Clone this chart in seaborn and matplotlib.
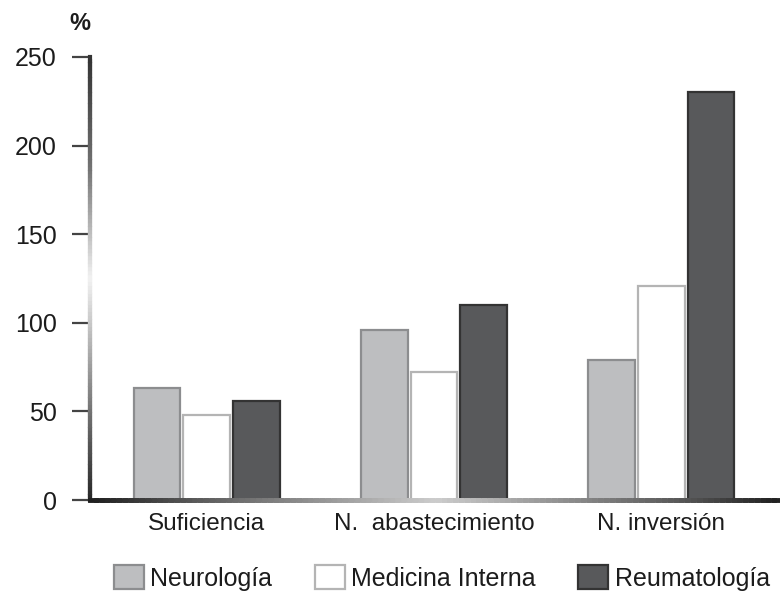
import numpy as np
import pandas as pd
import matplotlib as mpl
mpl.use("Agg")
from matplotlib import pyplot as plt
from matplotlib.collections import LineCollection
import seaborn as sns

# datos (%)
categorias = ["Suficiencia", "N.  abastecimiento", "N. inversión"]
servicios = ["Neurología", "Medicina Interna", "Reumatología"]
neurologia = [63, 96, 79]
medicina_interna = [48, 72, 121]
reumatologia = [56, 110, 230]
y_ticks = [0, 50, 100, 150, 200, 250]

data = pd.DataFrame({
    "categoria": categorias * 3,
    "servicio": np.repeat(servicios, len(categorias)),
    "valor": neurologia + medicina_interna + reumatologia,
})

sns.set_style("white")
plt.rcParams["font.family"] = ["Liberation Sans", "DejaVu Sans"]
plt.rcParams["text.color"] = "#1c1c1c"
plt.rcParams["xtick.color"] = "#1c1c1c"
plt.rcParams["ytick.color"] = "#1c1c1c"

colores = {"Neurología": "#bdbec0", "Medicina Interna": "#ffffff", "Reumatología": "#58595b"}
bordes = {"Neurología": "#8c8d8f", "Medicina Interna": "#b4b4b4", "Reumatología": "#333333"}

fig = plt.figure(figsize=(7.8, 5.93), dpi=100)
ax = fig.add_axes([90 / 780, 93 / 593, 690 / 780, 443 / 593])

sns.barplot(data=data, x="categoria", y="valor", hue="servicio",
            hue_order=servicios, palette=colores, width=0.66, gap=0.06,
            ax=ax, legend=True)

# bordes de cada barra segun su serie
for cont, serv in zip(ax.containers, servicios):
    for bar in cont:
        bar.set_edgecolor(bordes[serv])
        bar.set_linewidth(1.6)

ax.set_xlim(-0.515, 2.524)
ax.set_ylim(0, 250)
ax.set_yticks(y_ticks)
ax.set_xlabel("")
ax.set_ylabel("")
for s in ax.spines.values():
    s.set_visible(False)

ax.tick_params(axis="y", direction="out", length=13, width=1.6, color="#444444",
               labelsize=18, pad=11, left=True)
ax.tick_params(axis="x", length=0, labelsize=17.5, pad=9)

# ejes con degradado como en el original
n = 120
ys = np.linspace(0, 1, n)
pts = np.array([np.zeros(n), ys]).T.reshape(-1, 1, 2)
segs = np.concatenate([pts[:-1], pts[1:]], axis=1)
lv = np.interp(ys[:-1], [0, 0.2, 0.5, 0.75, 1], [0.15, 0.45, 0.95, 0.45, 0.2])
lc = LineCollection(segs, colors=[(v, v, v) for v in lv], linewidths=3,
                    capstyle="projecting", transform=ax.transAxes, clip_on=False)
ax.add_collection(lc)

xs = np.linspace(0, 1, n)
pts = np.array([xs, np.zeros(n)]).T.reshape(-1, 1, 2)
segs = np.concatenate([pts[:-1], pts[1:]], axis=1)
lv = np.interp(xs[:-1], [0, 0.15, 0.5, 0.85, 1], [0.12, 0.35, 0.8, 0.35, 0.12])
lc = LineCollection(segs, colors=[(v, v, v) for v in lv], linewidths=3.5,
                    capstyle="projecting", transform=ax.transAxes, clip_on=False)
ax.add_collection(lc)

handles, labels = ax.get_legend_handles_labels()
ax.legend_.remove()
for h, serv in zip(handles, servicios):
    h.set_edgecolor(bordes[serv])
    h.set_linewidth(1.6)
fig.legend(handles, labels, loc="center", bbox_to_anchor=(442 / 780, 1 - 578 / 593),
           ncol=3, frameon=False, fontsize=18, handlelength=1.2, handleheight=1.1,
           handletextpad=0.25, columnspacing=1.7, borderpad=0)

fig.text(80 / 780, 1 - 23 / 593, "%", fontsize=17, fontweight="bold",
         ha="center", va="center")

fig.savefig("out.png", dpi=100)
